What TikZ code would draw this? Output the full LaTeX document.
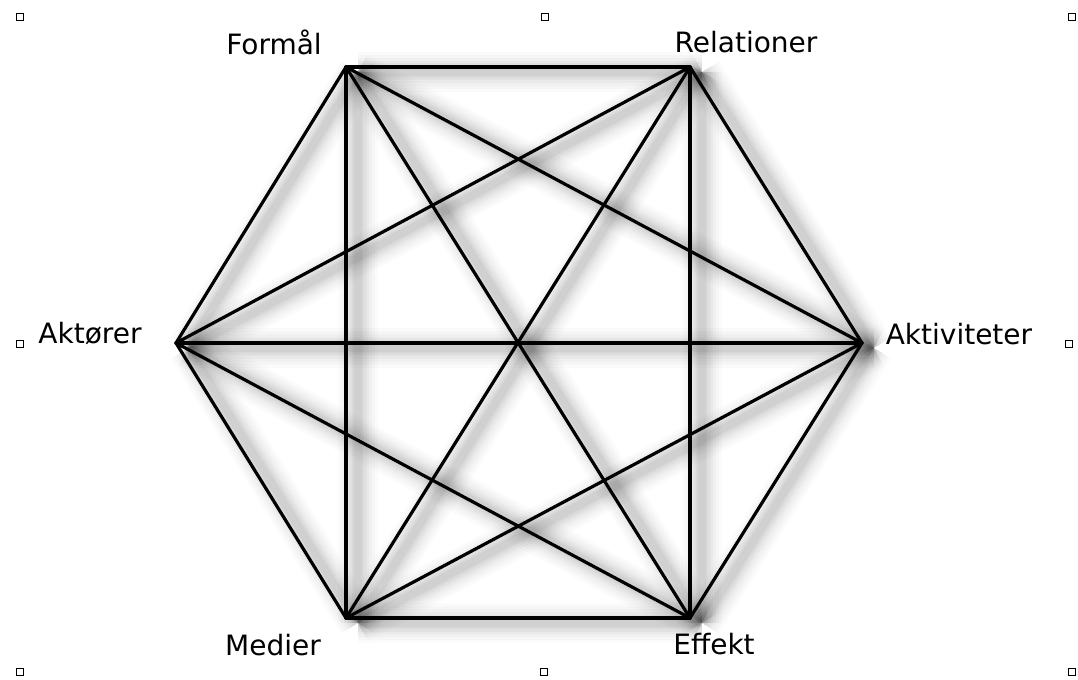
\documentclass[tikz,border=0pt]{standalone}
\usepackage{fontspec}
\setmainfont{DejaVu Sans}
\begin{document}
\begin{tikzpicture}[x=0.75pt,y=-0.75pt,
  vtx/.style={coordinate},
  lbl/.style={font=\fontsize{21}{24}\selectfont, text=black, inner sep=0pt},
  edge/.style={line width=2.4pt, black, line cap=round, line join=round},
  handle/.style={draw=black, fill=white, line width=0.6pt, minimum size=5pt, inner sep=0pt, rectangle}]
\useasboundingbox (0,0) rectangle (1078,680);
\fill[white] (0,0) rectangle (1078,680);
% vertices
\node[vtx] (F) at (346,67) {};
\node[vtx] (R) at (690,67) {};
\node[vtx] (A) at (862,343) {};
\node[vtx] (E) at (690,618) {};
\node[vtx] (M) at (346,618) {};
\node[vtx] (K) at (176,343) {};
% shadows
\foreach \w/\o in {40/0.015,34/0.018,28/0.022,22/0.026,17/0.03,12/0.035,8/0.04} {
  \foreach \a/\b in {F/R,F/A,F/E,F/M,F/K,R/A,R/E,R/M,R/K,A/E,A/M,A/K,E/M,E/K,M/K} {
    \draw[line width=\w*0.75pt, black, opacity=\o, line cap=butt]
      ([shift={(12,5)}]\a) -- ([shift={(12,5)}]\b);
  }
}
% edges
\foreach \a/\b in {F/R,F/A,F/E,F/M,F/K,R/A,R/E,R/M,R/K,A/E,A/M,A/K,E/M,E/K,M/K} {
  \draw[edge] (\a) -- (\b);
}
% labels
\node[lbl] (lF) at (274,42) {Formål};
\node[lbl] (lR) at (746,42) {Relationer};
\node[lbl] (lK) at (90,334) {Aktører};
\node[lbl] (lA) at (959,334) {Aktiviteter};
\node[lbl] (lM) at (273,645) {Medier};
\node[lbl] (lE) at (714,644) {Effekt};
% handles
\node[handle] (h1) at (20,17) {};
\node[handle] (h2) at (545,17) {};
\node[handle] (h3) at (1072,17) {};
\node[handle] (h4) at (20,344) {};
\node[handle] (h5) at (1069,344) {};
\node[handle] (h6) at (20,672) {};
\node[handle] (h7) at (544,672) {};
\node[handle] (h8) at (1072,672) {};
\end{tikzpicture}
\end{document}
